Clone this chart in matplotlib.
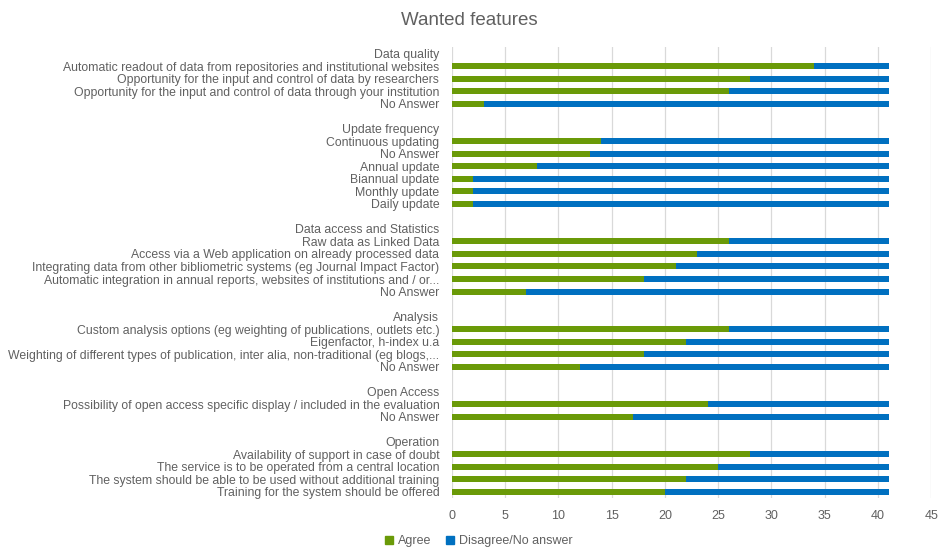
import matplotlib
matplotlib.use("Agg")
import matplotlib.pyplot as plt
from matplotlib.patches import Patch

# Row labels from top to bottom ("" = spacer row between groups)
labels = [
    "Data quality",
    "Automatic readout of data from repositories and institutional websites",
    "Opportunity for the input and control of data by researchers",
    "Opportunity for the input and control of data through your institution",
    "No Answer",
    "",
    "Update frequency",
    "Continuous updating",
    "No Answer",
    "Annual update",
    "Biannual update",
    "Monthly update",
    "Daily update",
    "",
    "Data access and Statistics",
    "Raw data as Linked Data",
    "Access via a Web application on already processed data",
    "Integrating data from other bibliometric systems (eg Journal Impact Factor)",
    "Automatic integration in annual reports, websites of institutions and / or...",
    "No Answer",
    "",
    "Analysis",
    "Custom analysis options (eg weighting of publications, outlets etc.)",
    "Eigenfactor, h-index u.a",
    "Weighting of different types of publication, inter alia, non-traditional (eg blogs,...",
    "No Answer",
    "",
    "Open Access",
    "Possibility of open access specific display / included in the evaluation",
    "No Answer",
    "",
    "Operation",
    "Availability of support in case of doubt",
    "The service is to be operated from a central location",
    "The system should be able to be used without additional training",
    "Training for the system should be offered",
]

agree = [0, 34, 28, 26, 3, 0,
         0, 14, 13, 8, 2, 2, 2, 0,
         0, 26, 23, 21, 18, 7, 0,
         0, 26, 22, 18, 12, 0,
         0, 24, 17, 0,
         0, 28, 25, 22, 20]

disagree = [0, 7, 13, 15, 38, 0,
            0, 27, 28, 33, 39, 39, 39, 0,
            0, 15, 18, 20, 23, 34, 0,
            0, 15, 19, 23, 29, 0,
            0, 17, 24, 0,
            0, 13, 16, 19, 21]

xticks = [0, 5, 10, 15, 20, 25, 30, 35, 40, 45]

green = '#6A9A08'
blue = '#0070C0'
text_gray = '#606060'

plt.rcParams['font.family'] = ['Liberation Sans', 'DejaVu Sans']

fig = plt.figure(figsize=(9.39, 5.51), dpi=100)
ax = fig.add_axes([0.4811, 0.0962, 0.5107, 0.8176])

ypos = list(range(len(labels)))
bar_h = 0.48
ax.barh(ypos, agree, height=bar_h, color=green, linewidth=0, label='Agree')
ax.barh(ypos, disagree, left=agree, height=bar_h, color=blue, linewidth=0,
        label='Disagree/No answer')

ax.set_ylim(len(labels) - 0.5, -0.5)
ax.set_xlim(0, 45)
ax.set_xticks(xticks)
ax.set_yticks(ypos)
ax.set_yticklabels(labels, fontsize=8.8, color=text_gray)
ax.tick_params(axis='y', length=0, pad=9)
ax.tick_params(axis='x', length=0, pad=9, labelsize=9, labelcolor=text_gray)
ax.grid(axis='x', color='#D9D9D9', linewidth=0.9)
ax.set_axisbelow(True)
for s in ax.spines.values():
    s.set_visible(False)

fig.text(0.5, 0.963, 'Wanted features', ha='center', va='center', fontsize=13.5, color=text_gray)

handles = [Patch(color=green, label='Agree'), Patch(color=blue, label='Disagree/No answer')]
fig.legend(handles=handles, loc='center', bbox_to_anchor=(0.51, 0.018), ncol=2, frameon=False,
           fontsize=9, handlelength=0.6, handleheight=0.6, handletextpad=0.4, columnspacing=1.2,
           labelcolor=text_gray)

fig.savefig('out.png', dpi=100, facecolor='white')
